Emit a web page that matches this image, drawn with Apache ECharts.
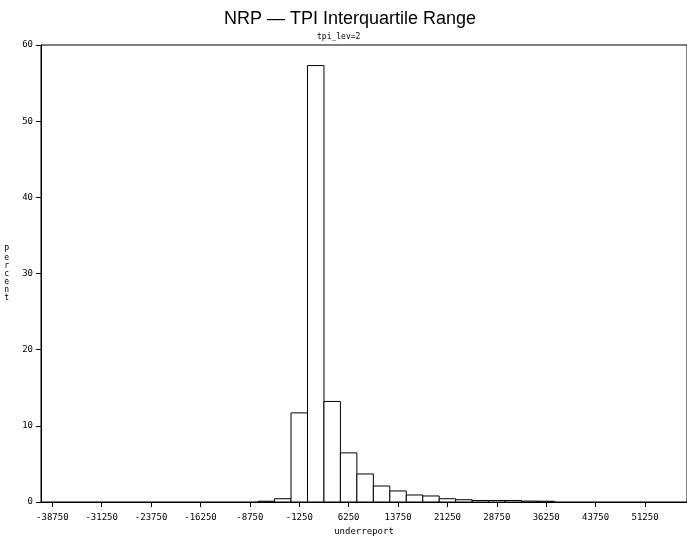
<!DOCTYPE html>
<html>
<head>
<meta charset="utf-8">
<script src="https://cdn.jsdelivr.net/npm/echarts@6/dist/echarts.min.js"></script>
<style>html,body{margin:0;padding:0;background:#fff}#c{width:687px;height:536px}</style>
</head>
<body>
<div id="c"></div>
<script>
// Bin midpoints (bin width 2500)
const midpoints = [-6250, -3750, -1250, 1250, 3750, 6250, 8750, 11250, 13750, 16250, 18750, 21250, 23750, 26250, 28750, 31250, 33750, 36250];
const percents  = [0.1, 0.43, 11.7, 57.3, 13.2, 6.45, 3.68, 2.1, 1.45, 0.92, 0.79, 0.43, 0.3, 0.2, 0.2, 0.2, 0.12, 0.1];
const binWidth = 2500;
const xTicks = [-38750, -31250, -23750, -16250, -8750, -1250, 6250, 13750, 21250, 28750, 36250, 43750, 51250];
const yTicks = [0, 10, 20, 30, 40, 50, 60];

const chart = echarts.init(document.getElementById('c'), null, {renderer: 'canvas'});
const mono = '"DejaVu Sans Mono", monospace';
const data = midpoints.map((m, i) => [m, percents[i]]);

chart.setOption({
  animation: false,
  backgroundColor: '#fff',
  title: [
    {text: 'NRP \u2014 TPI Interquartile Range', left: 219, top: 5,
     textStyle: {fontFamily: '"Liberation Sans", Arial, sans-serif', fontSize: 18, fontWeight: 'normal', color: '#000'}},
    {text: 'tpi_lev=2', left: 312, top: 28,
     textStyle: {fontFamily: mono, fontSize: 8, fontWeight: 'normal', color: '#000'}}
  ],
  grid: {left: 41, right: 0, top: 45, bottom: 34, outerBoundsMode: 'none', containLabel: false,
    show: true, borderColor: '#000', borderWidth: 1, backgroundColor: 'transparent'},
  xAxis: {
    type: 'value', min: -40466, max: 57627,
    name: 'underreport', nameLocation: 'middle', nameGap: 23,
    nameTextStyle: {fontFamily: mono, fontSize: 9, color: '#000'},
    axisLine: {onZero: false, lineStyle: {color: '#000', width: 1}},
    axisTick: {show: true, length: 5, lineStyle: {color: '#000'}, customValues: xTicks},
    axisLabel: {fontFamily: mono, fontSize: 9, color: '#000', margin: 11, customValues: xTicks,
      formatter: v => String(v)},
    splitLine: {show: false}
  },
  yAxis: {
    type: 'value', min: 0, max: 60,
    name: 'P\ne\nr\nc\ne\nn\nt', nameLocation: 'middle', nameRotate: 0, nameGap: 32,
    nameTextStyle: {fontFamily: mono, fontSize: 8, color: '#000', lineHeight: 8},
    axisLine: {show: true, onZero: false, lineStyle: {color: '#000', width: 1}},
    axisTick: {show: true, length: 5, lineStyle: {color: '#000'}, customValues: yTicks},
    axisLabel: {fontFamily: mono, fontSize: 9, color: '#000', margin: 8, customValues: yTicks},
    splitLine: {show: false}
  },
  series: [{
    type: 'custom',
    data: data,
    renderItem: function (params, api) {
      const m = api.value(0), v = api.value(1);
      const p0 = api.coord([m - binWidth / 2, v]);
      const p1 = api.coord([m + binWidth / 2, 0]);
      return {
        type: 'rect',
        shape: {x: p0[0], y: p0[1], width: p1[0] - p0[0], height: p1[1] - p0[1]},
        style: {fill: '#fff', stroke: '#000', lineWidth: 1}
      };
    },
    encode: {x: 0, y: 1}
  }]
});
</script>
</body>
</html>
